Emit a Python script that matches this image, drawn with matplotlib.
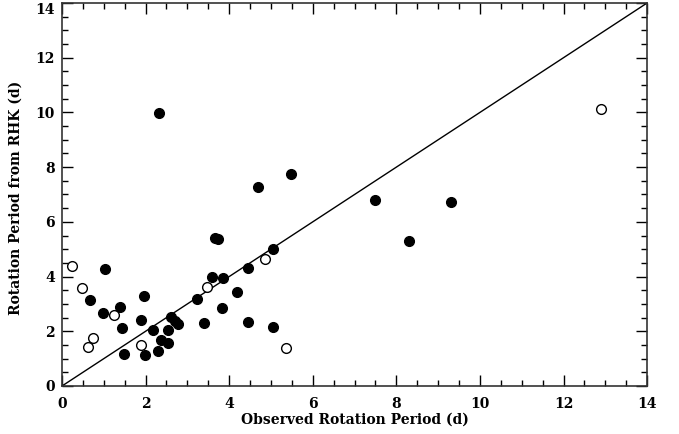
import matplotlib
matplotlib.use("Agg")
import matplotlib.pyplot as plt
from matplotlib.ticker import MultipleLocator

# filled circles: stars with measured periods
obs_filled = [0.67, 1.03, 0.99, 1.39, 1.43, 1.48, 1.97, 1.88, 1.99, 2.18,
              2.29, 2.37, 2.54, 2.54, 2.61, 2.70, 2.78, 3.22, 3.40, 3.58,
              3.66, 3.74, 3.86, 3.84, 4.18, 4.44, 4.44, 5.06, 5.06, 4.68,
              5.47, 7.50, 9.31, 8.30, 2.32]
rhk_filled = [3.14, 4.28, 2.67, 2.88, 2.11, 1.18, 3.29, 2.41, 1.15, 2.06,
              1.29, 1.68, 2.03, 1.56, 2.53, 2.39, 2.25, 3.17, 2.29, 3.97,
              5.40, 5.36, 3.94, 2.84, 3.45, 4.30, 2.35, 5.01, 2.15, 7.26,
              7.75, 6.81, 6.73, 5.30, 9.98]

# open circles
obs_open = [0.25, 0.49, 1.24, 0.73, 0.62, 1.89, 3.48, 4.86, 5.35, 12.9]
rhk_open = [4.39, 3.57, 2.60, 1.74, 1.41, 1.49, 3.61, 4.64, 1.40, 10.13]

label_font = {"family": "DejaVu Serif", "weight": "bold", "size": 10}

fig = plt.figure(figsize=(6.79, 4.34), dpi=100)
ax = fig.add_axes([0.0913, 0.1106, 0.8617, 0.8825])

ax.plot([0, 14], [0, 14], color="black", lw=1.0)
ax.plot(obs_filled, rhk_filled, "o", color="black", ms=7, mec="black", clip_on=False)
ax.plot(obs_open, rhk_open, "o", mfc="white", mec="black", mew=1.0, ms=7, clip_on=False)

ax.set_xlim(0, 14)
ax.set_ylim(0, 14)
ax.set_yticks([0, 2, 4, 6, 8, 10, 12, 14])
ax.set_xticks([0, 2, 4, 6, 8, 10, 12, 14])
ax.xaxis.set_minor_locator(MultipleLocator(0.5))
ax.yaxis.set_minor_locator(MultipleLocator(0.5))
ax.tick_params(which="both", direction="in", top=True, right=True, width=1.0, colors="black")
ax.tick_params(which="major", length=8)
ax.tick_params(which="minor", length=4)
ax.tick_params(axis="x", pad=8)
ax.tick_params(axis="y", pad=5)
for sp in ax.spines.values():
    sp.set_linewidth(1.2)
    sp.set_color("#333333")

ax.set_xlabel("Observed Rotation Period (d)", fontdict=label_font, labelpad=1)
ax.set_ylabel("Rotation Period from RHK (d)", fontdict=label_font)
ax.yaxis.set_label_coords(-0.068, 0.49)

for lab in ax.get_xticklabels() + ax.get_yticklabels():
    lab.set_fontfamily("DejaVu Serif")
    lab.set_fontweight("bold")
    lab.set_fontsize(10)
# keep the top "14" inside the figure, as in the original
ax.yaxis.get_major_ticks()[-1].label1.set_verticalalignment("top")
ax.yaxis.get_major_ticks()[0].label1.set_verticalalignment("center_baseline")

fig.savefig("out.png", dpi=100)
